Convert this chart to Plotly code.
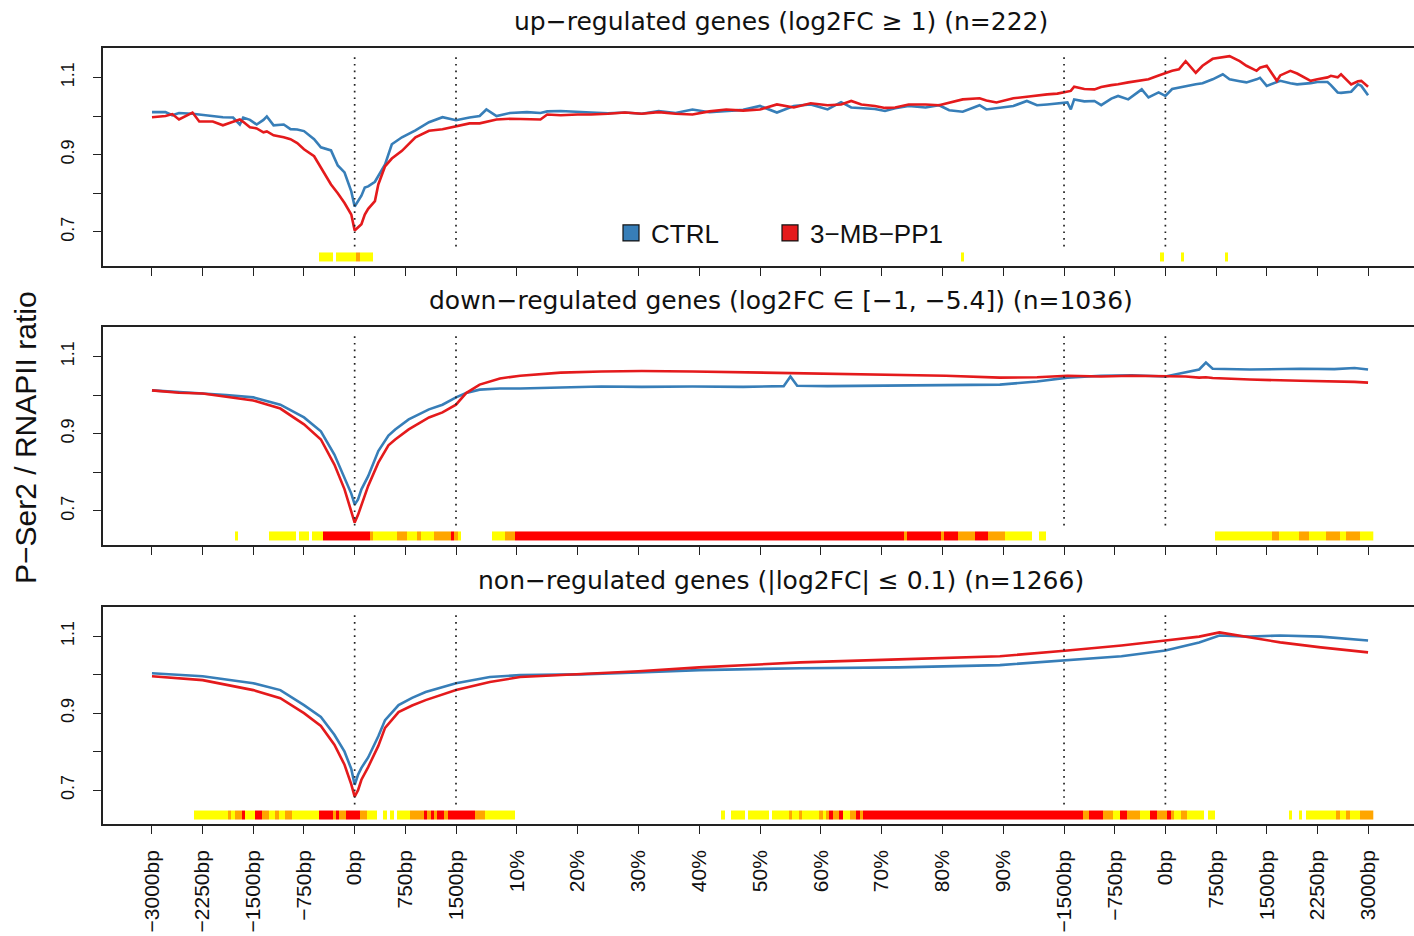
import plotly.graph_objects as go

# ---------------- data ----------------
tick_bins = [0, 15, 30, 45, 60, 75, 90, 108, 126, 144, 162, 180, 198, 216, 234, 252,
             270, 285, 300, 315, 330, 345, 360]
tick_labels = ["−3000bp", "−2250bp", "−1500bp", "−750bp", "0bp", "750bp", "1500bp",
               "10%", "20%", "30%", "40%", "50%", "60%", "70%", "80%", "90%",
               "−1500bp", "−750bp", "0bp", "750bp", "1500bp", "2250bp", "3000bp"]
boundary_bins = [60, 90, 270, 300]
y_tick_vals = [0.7, 0.8, 0.9, 1.0, 1.1]
y_tick_text = ["0.7", "", "0.9", "", "1.1"]

panel_titles = ["up−regulated genes (log2FC ≥ 1) (n=222)",
                "down−regulated genes (log2FC ∈ [−1, −5.4]) (n=1036)",
                "non−regulated genes (|log2FC| ≤ 0.1) (n=1266)"]
series_names = ["CTRL", "3−MB−PP1"]

up_bins = [0, 4, 6, 8, 12, 14, 18, 21, 24, 26, 27, 29, 31, 33, 34, 36, 39, 41, 43, 45, 48, 50,
           53, 55, 57, 59, 60, 62, 63, 64, 66, 67, 69, 71, 74, 78, 82, 86, 90, 94, 97, 99, 102,
           106, 111, 115, 117, 121, 126, 130, 135, 140, 145, 150, 155, 160, 165, 170, 175, 180,
           185, 190, 195, 200, 204, 207, 210, 214, 217, 220, 224, 229, 233, 236, 240, 245, 247,
           250, 255, 259, 262, 265, 268, 271, 272, 273, 276, 279, 281, 284, 286, 289, 293, 295,
           298, 300, 302, 304, 306, 309, 311, 314, 317, 319, 322, 324, 327, 328, 330, 333, 334,
           337, 339, 343, 345, 348, 349, 351, 352, 355, 357, 358, 360]
up_ctrl = [1.010, 1.010, 1.002, 1.008, 1.006, 1.004, 1.000, 0.997, 0.996, 0.978, 0.996, 0.990,
           0.978, 0.990, 0.999, 0.976, 0.978, 0.966, 0.965, 0.961, 0.940, 0.919, 0.911, 0.872,
           0.854, 0.805, 0.766, 0.794, 0.815, 0.818, 0.830, 0.845, 0.875, 0.927, 0.945, 0.963,
           0.984, 0.997, 0.989, 0.996, 1.000, 1.017, 1.000, 1.008, 1.010, 1.008, 1.012, 1.013,
           1.010, 1.009, 1.007, 1.009, 1.006, 1.013, 1.008, 1.017, 1.010, 1.013, 1.016, 1.026,
           1.009, 1.026, 1.030, 1.017, 1.036, 1.022, 1.021, 1.018, 1.013, 1.020, 1.026, 1.022,
           1.028, 1.015, 1.011, 1.028, 1.017, 1.020, 1.026, 1.039, 1.028, 1.030, 1.032, 1.035,
           1.017, 1.043, 1.038, 1.039, 1.028, 1.045, 1.052, 1.043, 1.069, 1.048, 1.061, 1.052,
           1.070, 1.074, 1.076, 1.082, 1.085, 1.095, 1.108, 1.095, 1.090, 1.087, 1.095, 1.099,
           1.078, 1.088, 1.091, 1.085, 1.082, 1.085, 1.088, 1.088, 1.080, 1.061, 1.060, 1.063,
           1.082, 1.078, 1.054]
up_mb = [0.997, 1.000, 1.005, 0.991, 1.009, 0.986, 0.986, 0.976, 0.985, 0.991, 0.985, 0.971,
         0.968, 0.958, 0.960, 0.950, 0.945, 0.940, 0.930, 0.914, 0.896, 0.867, 0.823, 0.800,
         0.775, 0.745, 0.704, 0.720, 0.745, 0.760, 0.780, 0.823, 0.870, 0.890, 0.910, 0.945,
         0.962, 0.966, 0.973, 0.981, 0.981, 0.985, 0.991, 0.993, 0.991, 0.991, 1.004, 1.002,
         1.004, 1.004, 1.006, 1.009, 1.006, 1.010, 1.006, 1.004, 1.012, 1.017, 1.014, 1.017,
         1.030, 1.022, 1.033, 1.028, 1.030, 1.039, 1.030, 1.026, 1.021, 1.022, 1.030, 1.030,
         1.028, 1.035, 1.043, 1.046, 1.040, 1.035, 1.046, 1.050, 1.054, 1.056, 1.058, 1.062,
         1.065, 1.076, 1.070, 1.069, 1.075, 1.080, 1.082, 1.087, 1.092, 1.095, 1.105, 1.112,
         1.117, 1.121, 1.142, 1.112, 1.130, 1.148, 1.152, 1.155, 1.142, 1.130, 1.117, 1.125,
         1.130, 1.091, 1.105, 1.117, 1.110, 1.091, 1.095, 1.100, 1.104, 1.100, 1.108, 1.082,
         1.090, 1.091, 1.076]

down_bins = [0, 8, 15, 22, 30, 38, 45, 50, 54, 57, 59, 60, 61, 62, 64, 67, 70, 72, 76, 82, 86,
             90, 93, 97, 103, 109, 115, 121, 133, 145, 160, 175, 187, 189, 191, 200, 210, 221,
             235, 251, 262, 271, 281, 290, 300, 306, 310, 312, 314, 325, 340, 350, 356, 360]
down_ctrl = [1.012, 1.008, 1.005, 1.000, 0.994, 0.975, 0.942, 0.906, 0.846, 0.787, 0.745, 0.717,
             0.730, 0.756, 0.790, 0.855, 0.895, 0.911, 0.937, 0.963, 0.975, 0.994, 1.005, 1.014,
             1.017, 1.017, 1.018, 1.019, 1.022, 1.021, 1.022, 1.021, 1.023, 1.048, 1.024, 1.023,
             1.024, 1.025, 1.026, 1.027, 1.035, 1.045, 1.050, 1.051, 1.048, 1.058, 1.066, 1.084,
             1.068, 1.066, 1.068, 1.067, 1.070, 1.066]
down_mb = [1.012, 1.006, 1.004, 0.996, 0.986, 0.965, 0.924, 0.885, 0.820, 0.756, 0.700, 0.670,
           0.690, 0.717, 0.765, 0.825, 0.870, 0.885, 0.911, 0.942, 0.955, 0.975, 1.005, 1.027,
           1.043, 1.050, 1.054, 1.058, 1.061, 1.062, 1.061, 1.059, 1.057, 1.056, 1.056, 1.056,
           1.054, 1.053, 1.050, 1.045, 1.046, 1.050, 1.048, 1.050, 1.048, 1.048, 1.045, 1.046,
           1.044, 1.040, 1.037, 1.036, 1.034, 1.032]

non_bins = [0, 15, 30, 38, 45, 50, 54, 57, 59, 60, 61, 62, 64, 67, 69, 73, 77, 81, 90, 100, 109,
            127, 144, 162, 192, 221, 251, 271, 287, 300, 310, 316, 325, 334, 346, 360]
non_ctrl = [1.004, 0.996, 0.978, 0.960, 0.921, 0.890, 0.844, 0.800, 0.755, 0.714, 0.740, 0.758,
            0.785, 0.840, 0.882, 0.921, 0.940, 0.955, 0.978, 0.994, 0.999, 1.001, 1.006, 1.012,
            1.017, 1.019, 1.025, 1.037, 1.048, 1.063, 1.084, 1.102, 1.099, 1.102, 1.099, 1.089]
non_mb = [0.996, 0.986, 0.960, 0.939, 0.900, 0.867, 0.818, 0.766, 0.715, 0.683, 0.700, 0.727,
          0.760, 0.815, 0.862, 0.903, 0.920, 0.934, 0.960, 0.981, 0.994, 1.001, 1.009, 1.019,
          1.032, 1.040, 1.048, 1.063, 1.076, 1.089, 1.099, 1.110, 1.097, 1.084, 1.071, 1.058]

# significance runs: (first bin, last bin, level 1=yellow 2=orange 3=red)
up_sig = [(50, 53, 1), (55, 60, 1), (61, 61, 2), (62, 65, 1), (240, 240, 1), (299, 299, 1),
          (305, 305, 1), (318, 318, 1)]
down_sig = [(25, 25, 1), (35, 42, 1), (44, 46, 1), (48, 50, 1), (51, 64, 3), (65, 65, 2),
            (66, 72, 1), (73, 75, 2), (76, 78, 1), (79, 79, 2), (80, 83, 1), (84, 88, 2),
            (89, 89, 3), (90, 90, 2), (91, 91, 1), (101, 104, 1), (105, 107, 2), (108, 222, 3),
            (223, 223, 2), (224, 233, 3), (234, 234, 2), (235, 238, 3), (239, 243, 2),
            (244, 247, 3), (248, 252, 2), (253, 260, 1), (263, 264, 1), (315, 331, 1),
            (332, 333, 2), (334, 339, 1), (340, 342, 2), (343, 347, 1), (348, 351, 2),
            (352, 353, 1), (354, 357, 2), (358, 361, 1)]
non_sig = [(13, 22, 1), (23, 23, 2), (24, 24, 1), (25, 26, 2), (27, 27, 3), (28, 30, 1),
           (31, 32, 3), (33, 34, 2), (35, 36, 1), (37, 37, 2), (38, 39, 1), (40, 41, 2),
           (42, 49, 1), (50, 53, 3), (54, 54, 2), (55, 55, 3), (56, 57, 2), (58, 61, 3),
           (62, 63, 2), (64, 66, 1), (69, 69, 1), (71, 71, 1), (73, 76, 1), (77, 80, 2),
           (81, 81, 3), (82, 82, 2), (83, 83, 3), (84, 84, 2), (85, 86, 3), (87, 87, 2),
           (88, 95, 3), (96, 98, 2), (99, 107, 1), (169, 169, 1), (172, 175, 1), (177, 182, 1),
           (184, 188, 1), (189, 189, 2), (190, 191, 1), (192, 192, 2), (193, 197, 1),
           (198, 198, 2), (199, 199, 1), (200, 200, 2), (201, 201, 3), (202, 203, 2),
           (204, 204, 3), (205, 206, 1), (207, 208, 2), (209, 209, 3), (210, 210, 2),
           (211, 275, 3), (276, 277, 2), (278, 281, 3), (282, 284, 2), (285, 286, 1),
           (287, 288, 3), (289, 292, 2), (293, 295, 1), (296, 297, 3), (298, 300, 2),
           (301, 301, 3), (302, 302, 2), (303, 304, 1), (305, 306, 2), (307, 311, 1),
           (313, 314, 1), (337, 337, 1), (340, 340, 1), (342, 350, 1), (351, 351, 2),
           (352, 353, 1), (354, 354, 2), (355, 357, 1), (358, 361, 2)]
n_bins = 362

# ---------------- styling ----------------
W, H = 1414, 936
BLUE, RED = "#377EB8", "#E41A1C"
AXC = "#222222"
x_left_px = 103
x_range = [-14.5, 373.6]
y_range = [0.612, 1.176]
panel_px = [(48, 266), (327, 545), (607, 824)]
title_px_y = [21, 300, 580]
strip_y0, strip_h = 0.6355, 0.023
dot_y = [0.6625, 1.165]

panels = [(up_bins, up_ctrl, up_mb, up_sig),
          (down_bins, down_ctrl, down_mb, down_sig),
          (non_bins, non_ctrl, non_mb, non_sig)]

fig = go.Figure()
sig_scale = [[0, "#FFFF00"], [0.25, "#FFFF00"], [0.25, "#FFA500"], [0.75, "#FFA500"],
             [0.75, "#FF0000"], [1, "#FF0000"]]

shapes = []
annotations = []
layout_axes = {}
for i, (bins, ctrl, mb, sig) in enumerate(panels):
    k = "" if i == 0 else str(i + 1)
    xa, ya = "x" + k, "y" + k
    row = [None] * n_bins
    for a, b, lev in sig:
        for j in range(a, b + 1):
            row[j] = lev
    fig.add_trace(go.Heatmap(z=[row], x0=0, dx=1, y0=strip_y0, dy=strip_h, zmin=1, zmax=3,
                             colorscale=sig_scale, showscale=False, hoverinfo="skip",
                             xaxis=xa, yaxis=ya))
    fig.add_trace(go.Scatter(x=bins, y=ctrl, mode="lines", line=dict(color=BLUE, width=2.6),
                             showlegend=False, xaxis=xa, yaxis=ya, name=series_names[0]))
    fig.add_trace(go.Scatter(x=bins, y=mb, mode="lines", line=dict(color=RED, width=2.6),
                             showlegend=False, xaxis=xa, yaxis=ya, name=series_names[1]))
    for b in boundary_bins:
        shapes.append(dict(type="line", xref=xa, yref=ya, x0=b, x1=b, y0=dot_y[0], y1=dot_y[1],
                           line=dict(color=AXC, width=1.7, dash="1.7px,5px"), layer="above"))
    top, bot = panel_px[i]
    layout_axes["xaxis" + k] = dict(
        domain=[x_left_px / W, 1], range=x_range, anchor=ya, tickmode="array",
        tickvals=tick_bins, ticktext=tick_labels, ticks="outside", ticklen=8, tickwidth=1.4,
        tickcolor=AXC, showline=True, linecolor=AXC, linewidth=1.5, mirror=True,
        showgrid=False, zeroline=False, showticklabels=(i == 2), tickangle=-90,
        tickfont=dict(family="Liberation Sans, Arial", size=21, color="#111"),
        ticklabelstandoff=8)
    layout_axes["yaxis" + k] = dict(
        domain=[1 - bot / H, 1 - top / H], range=y_range, anchor=xa, tickmode="array",
        tickvals=y_tick_vals, ticktext=y_tick_text, ticks="outside", ticklen=8, tickwidth=1.4,
        tickcolor=AXC, showline=True, linecolor=AXC, linewidth=1.5, mirror=False,
        showgrid=False, zeroline=False, tickangle=-90,
        tickfont=dict(family="Liberation Sans, Arial", size=18, color="#111"),
        ticklabelstandoff=12)
    annotations.append(dict(text=panel_titles[i], xref="paper", yref="paper", x=781 / W,
                            y=1 - title_px_y[i] / H, xanchor="center", yanchor="middle",
                            showarrow=False,
                            font=dict(family="DejaVu Sans", size=25, color="#111")))

annotations.append(dict(text="P−Ser2 / RNAPII ratio", xref="paper", yref="paper",
                        x=25 / W, y=1 - 438 / H, xanchor="center", yanchor="middle",
                        textangle=-90, showarrow=False,
                        font=dict(family="Liberation Sans, Arial", size=30, color="#111")))

# legend entries (square keys)
fig.add_trace(go.Scatter(x=[None], y=[None], mode="markers", name=series_names[0],
                         marker=dict(symbol="square", size=16, color=BLUE,
                                     line=dict(color="#111", width=1.2)),
                         legend="legend"))
fig.add_trace(go.Scatter(x=[None], y=[None], mode="markers", name=series_names[1],
                         marker=dict(symbol="square", size=16, color=RED,
                                     line=dict(color="#111", width=1.2)),
                         legend="legend2"))

leg_common = dict(orientation="h", yanchor="middle", xanchor="left", bgcolor="rgba(0,0,0,0)",
                  borderwidth=0, font=dict(family="Liberation Sans, Arial", size=26, color="#111"))
fig.update_layout(
    width=W, height=H, margin=dict(l=0, r=0, t=0, b=0),
    paper_bgcolor="white", plot_bgcolor="white",
    shapes=shapes, annotations=annotations,
    legend=dict(x=611 / W, y=1 - 233 / H, **leg_common),
    legend2=dict(x=770 / W, y=1 - 233 / H, **leg_common),
    **layout_axes)

fig.write_html("out.html")
